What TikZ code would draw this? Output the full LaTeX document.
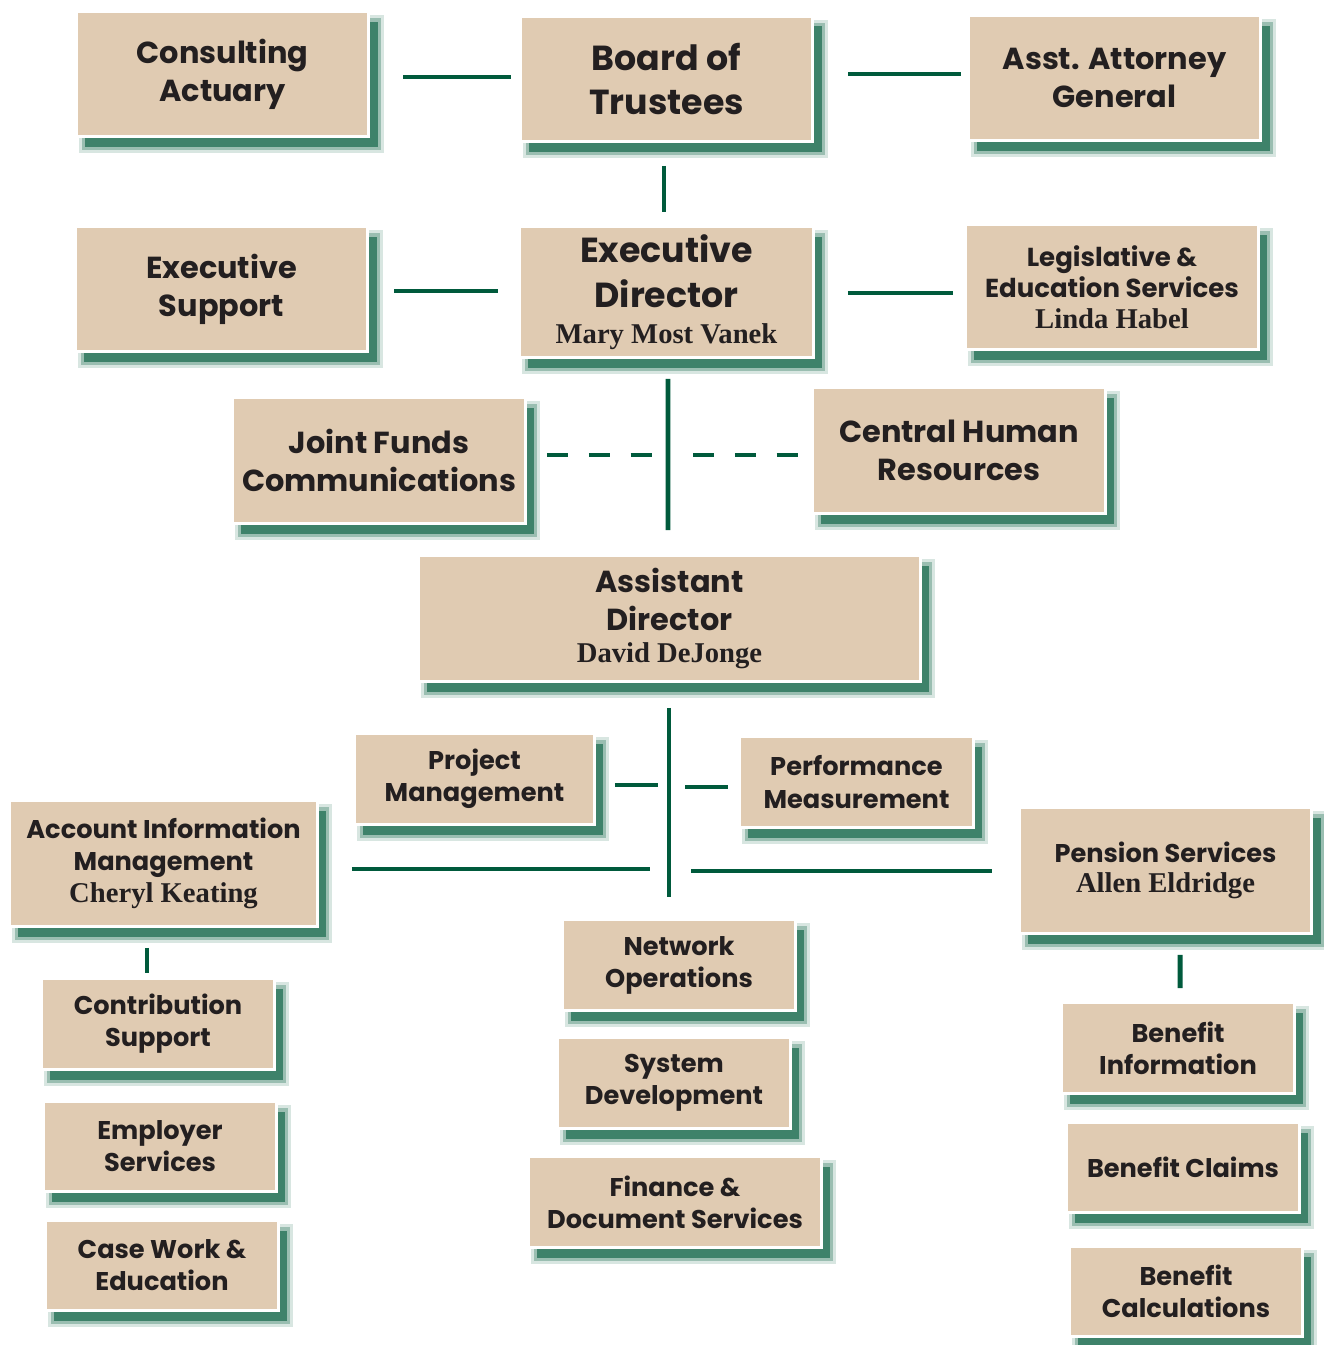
\documentclass[tikz,border=0pt]{standalone}
\usepackage{fontspec}
\setmainfont{Poppins}
\newfontfamily\namefont{Liberation Serif}
\usetikzlibrary{calc}

\definecolor{boxtan}{RGB}{224,203,178}
\definecolor{linegreen}{RGB}{0,90,60}
\definecolor{shadegreen}{RGB}{62,130,106}
\definecolor{inkblack}{RGB}{35,31,32}

\newcommand{\lgsize}{\fontsize{19.8}{25.5}\selectfont}
\newcommand{\mdsize}{\fontsize{17.3}{21.5}\selectfont}
\newcommand{\lesize}{\fontsize{14.8}{17.8}\selectfont}
\newcommand{\smsize}{\fontsize{14.6}{18.3}\selectfont}
\newcommand{\person}[1]{{\namefont\bfseries\fontsize{16.3}{17}\selectfont #1}}

\tikzset{
  box/.style={draw=white, line width=1.7pt, fill=boxtan, text=inkblack,
    align=center, inner sep=0pt,
    preaction={fill=shadegreen, draw=shadegreen, line width=7pt, opacity=.2,
      transform canvas={shift={(5pt,-5.7pt)}}},
    preaction={fill=shadegreen, draw=shadegreen, line width=3.5pt, opacity=.4,
      transform canvas={shift={(5pt,-5.7pt)}}},
    preaction={fill=shadegreen, transform canvas={shift={(5pt,-5.7pt)}}}},
  bigbox/.style={box, minimum width=5.86cm, minimum height=2.5cm, font=\mdsize\bfseries},
  smallbox/.style={box, minimum width=4.66cm, minimum height=1.82cm, font=\smsize\bfseries},
  link/.style={draw=linegreen, line width=2.83pt},
  dashlink/.style={link, dash pattern=on 11.9pt off 11.9pt}
}

\begin{document}
\begin{tikzpicture}[x=0.02cm, y=-0.02cm]
    \fill[white] (0,0) rectangle (1323,1345);
    \useasboundingbox (0,0) rectangle (1323,1345);

    % Top row
    \node[bigbox] (ca) at (222.5,74) {Consulting\\Actuary};
    \node[bigbox, font=\lgsize\bfseries, minimum height=2.52cm] (bot) at (666.5,79) {Board of\\Trustees};
    \node[bigbox] (aag) at (1114.5,78) {Asst. Attorney\\General};

    % Director row
    \node[bigbox] (es) at (221.5,289) {Executive\\Support};
    \node[bigbox, font=\lgsize\bfseries, minimum width=5.88cm, minimum height=2.62cm] (ed) at (666.5,292)
        {Executive\\Director\\[-5pt]\person{Mary Most Vanek}};
    \node[bigbox, font=\lesize\bfseries] (les) at (1112,287)
        {Legislative \&\\Education Services\\\person{Linda Habel}};

    % Staff units
    \node[bigbox, minimum height=2.52cm] (jfc) at (379,460.5) {Joint Funds\\Communications};
    \node[bigbox, minimum height=2.52cm] (chr) at (959,450.5) {Central Human\\Resources};

    % Assistant director
    \node[bigbox, minimum width=10.04cm, minimum height=2.52cm] (ad) at (669.5,618.5)
        {Assistant\\Director\\[-3pt]\person{David DeJonge}};

    % Divisions
    \node[smallbox, minimum width=4.8cm] (pm) at (474.5,779) {Project\\Management};
    \node[smallbox, minimum width=4.68cm] (perf) at (856.5,782) {Performance\\Measurement};
    \node[bigbox, font=\smsize\bfseries, minimum width=6.16cm, minimum height=2.52cm] (aim) at (163.5,863.5)
        {Account Information\\Management\\\person{Cheryl Keating}};
    \node[bigbox, font=\smsize\bfseries, minimum height=2.52cm] (ps) at (1165.5,870.5)
        {Pension Services\\[-1pt]\person{Allen Eldridge}};

    % Center column
    \node[smallbox] (no) at (679,965) {Network\\Operations};
    \node[smallbox] (sd) at (674,1083) {System\\Development};
    \node[smallbox, minimum width=5.86cm] (fds) at (675,1202) {Finance \&\\Document Services};

    % Left column
    \node[smallbox] (cs) at (158,1024) {Contribution\\Support};
    \node[smallbox, minimum height=1.8cm] (emp) at (160,1146.5) {Employer\\Services};
    \node[smallbox, minimum height=1.8cm] (cwe) at (162,1265.5) {Case Work \&\\Education};

    % Right column
    \node[smallbox] (bi) at (1178,1048) {Benefit\\Information};
    \node[smallbox, minimum height=1.8cm] (bcl) at (1183,1167.5) {Benefit Claims};
    \node[smallbox, minimum height=1.8cm] (bca) at (1186,1291.5) {Benefit\\Calculations};

    % Connectors
    \draw[link] ($(ca.east)+(33,3)$) -- ($(bot.west)+(-8,-2)$);
    \draw[link] ($(bot.east)+(34,-5)$) -- ($(aag.west)+(-6,-4)$);
    \draw[link] ($(bot.south)+(-2.5,22.5)$) -- ($(ed.north)+(-2.5,-13)$);
    \draw[link] ($(es.east)+(25,2)$) -- ($(ed.west)+(-20,-1)$);
    \draw[link] ($(ed.east)+(33,1)$) -- ($(les.west)+(-11,6)$);
    \draw[link] ($(ed.south)+(1.5,20)$) -- ($(ad.north)+(-1.5,-24)$);
    \draw[dashlink] ($(jfc.east)+(20,-5.5)$) -- ($(jfc.east -| ed.south)+(-14.5,-5.5)$);
    \draw[dashlink] ($(chr.west -| ed.south)+(26.5,4.5)$) -- ($(chr.west)+(-13,4.5)$);

    \draw[link] ($(ad.south)+(-0.5,25)$) -- ($(ad.south |- aim.east)+(-0.5,33.5)$);
    \draw[link] ($(pm.east)+(19,6)$) -- ($(pm.east -| ad.south)+(-11.5,6)$);
    \draw[link] ($(perf.west -| ad.south)+(15.5,5)$) -- ($(perf.west)+(-10,5)$);
    \draw[link] ($(aim.east)+(33,5.5)$) -- ($(aim.east -| ad.south)+(-19.5,5.5)$);
    \draw[link] ($(ps.west -| ad.south)+(21.5,0.5)$) -- ($(ps.west)+(-26,0.5)$);
    \draw[link] ($(aim.south)+(-16.5,20)$) -- ($(cs.north)+(-11,-4)$);
    \draw[link] ($(ps.south)+(14.5,20)$) -- ($(bi.north)+(2,-13)$);
\end{tikzpicture}
\end{document}
